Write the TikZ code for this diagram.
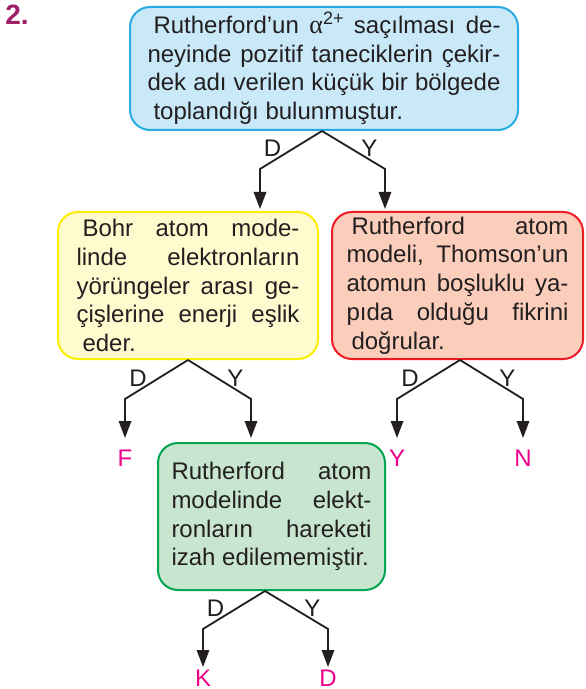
\documentclass[tikz,border=0pt]{standalone}
\usepackage{fontspec}
\setmainfont{Liberation Sans}
\newfontfamily\grkfont{Liberation Serif}
\usetikzlibrary{arrows.meta, positioning}

\definecolor{mavi}{RGB}{201,233,248}
\definecolor{mavic}{RGB}{41,171,226}
\definecolor{sari}{RGB}{255,251,206}
\definecolor{saric}{RGB}{255,237,0}
\definecolor{kirmizi}{RGB}{250,206,186}
\definecolor{kirmizic}{RGB}{237,28,36}
\definecolor{yesil}{RGB}{200,230,207}
\definecolor{yesilc}{RGB}{0,166,81}
\definecolor{pembe}{RGB}{236,0,140}
\definecolor{mor}{RGB}{158,31,99}
\definecolor{yazi}{RGB}{35,31,32}

\begin{document}
\begin{tikzpicture}[
        >={Triangle[length=8.5pt,width=6.2pt]},
        box/.style={
            draw,
            line width=1pt,
            rounded corners=10pt,
            inner sep=0pt,
            align=justify,
            text=yazi,
            font=\fontsize{12}{14.4}\selectfont,
            execute at begin node={\tolerance=10000\hbadness=10000}
        },
        arr/.style={
            ->,
            line width=0.9pt,
            draw=yazi
        },
        yn/.style={
            inner sep=0pt,
            yshift=0.75pt,
            text=yazi,
            font=\fontsize{12}{14.4}\selectfont
        },
        son/.style={
            inner sep=0pt,
            text=pembe,
            font=\fontsize{12}{14.4}\selectfont
        }
    ]
        \path[use as bounding box, fill=white] (0,0) rectangle (292.5pt,-344.5pt);

        \node[font=\fontsize{14}{16}\selectfont\bfseries, text=mor, inner sep=0pt] (no) at (8.5pt,-7.5pt) {2.};

        % sorular
        \node[box, fill=mavi, draw=mavic, minimum width=194pt, minimum height=61.5pt, text width=176.5pt] (root) at (162pt,-34.25pt) {
            \hspace*{3pt}Rutherford’un {\grkfont\fontsize{13}{14}\selectfont α}\raisebox{4.2pt}{\fontsize{9}{9}\selectfont 2+} saçılması de-\linebreak
            neyinde pozitif taneciklerin çekir-\linebreak
            dek adı verilen küçük bir bölgede\linebreak
            \hspace*{3pt}toplandığı bulunmuştur.
        };

        \node[box, fill=sari, draw=saric, minimum width=130pt, minimum height=73.5pt, text width=111.5pt, below=40pt of root, xshift=-68pt] (bohr) {
            \hspace*{3pt}Bohr atom mode-\linebreak
            linde elektronların\linebreak
            yörüngeler arası ge-\linebreak
            çişlerine enerji eşlik\linebreak
            \hspace*{3pt}eder.
        };

        \node[box, fill=kirmizi, draw=kirmizic, minimum width=125.5pt, minimum height=73.5pt, text width=111pt, below=40pt of root, xshift=66.75pt] (thom) {
            \hspace*{2.5pt}Rutherford atom\linebreak
            modeli, Thomson’un\linebreak
            atomun boşluklu ya-\linebreak
            pıda olduğu fikrini\linebreak
            \hspace*{2.5pt}doğrular.
        };

        \node[box, fill=yesil, draw=yesilc, minimum width=113.5pt, minimum height=73.5pt, text width=100pt, below=41pt of bohr, xshift=41.75pt] (elek) {
            Rutherford atom\linebreak
            modelinde elekt-\linebreak
            ronların hareketi\linebreak
            izah edilememiştir.
        };

        % dallar
        \coordinate (roota) at ([xshift=-1pt]root.south);
        \coordinate (bohra) at (bohr.south);
        \coordinate (thoma) at ([xshift=1.25pt]thom.south);
        \coordinate (eleka) at ([xshift=-3.25pt]elek.south);
        \coordinate[below left=19pt and 31pt of roota] (rootd);
        \coordinate[below right=19pt and 31.5pt of roota] (rooty);
        \coordinate[below left=19.5pt and 31.5pt of bohra] (bohrd);
        \coordinate[below right=19.5pt and 31.5pt of bohra] (bohry);
        \coordinate[below left=19.5pt and 31.5pt of thoma] (thomd);
        \coordinate[below right=19.5pt and 31.5pt of thoma] (thomy);
        \coordinate[below left=19pt and 31pt of eleka] (elekd);
        \coordinate[below right=19pt and 31.5pt of eleka] (eleky);

        % sonuclar
        \node[son, below=25.5pt of bohrd] (sonF) {F};
        \node[son, below=25.5pt of thomd] (sonY) {Y};
        \node[son, below=25.5pt of thomy] (sonN) {N};
        \node[son, below=20.5pt of elekd] (sonK) {K};
        \node[son, below=20.5pt of eleky] (sonD) {D};

        \draw[arr, shorten >=1pt] (roota) -- node[yn, left=4.5pt] {D} (rootd) -- (rootd |- bohr.north);
        \draw[arr, shorten >=1pt] (roota) -- node[yn, right=3.5pt] {Y} (rooty) -- (rooty |- thom.north);
        \draw[arr, shorten >=6pt] (bohra) -- node[yn, left=4.5pt] {D} (bohrd) -- (sonF);
        \draw[arr, shorten >=2pt] (bohra) -- node[yn, right=3.5pt] {Y} (bohry) -- (bohry |- elek.north);
        \draw[arr, shorten >=6pt] (thoma) -- node[yn, left=4.5pt] {D} (thomd) -- (sonY);
        \draw[arr, shorten >=6pt] (thoma) -- node[yn, right=3.5pt] {Y} (thomy) -- (sonN);
        \draw[arr, shorten >=1.5pt] (eleka) -- node[yn, left=4.5pt] {D} (elekd) -- (sonK);
        \draw[arr, shorten >=1.5pt] (eleka) -- node[yn, right=3.5pt] {Y} (eleky) -- (sonD);
    \end{tikzpicture}
\end{document}
